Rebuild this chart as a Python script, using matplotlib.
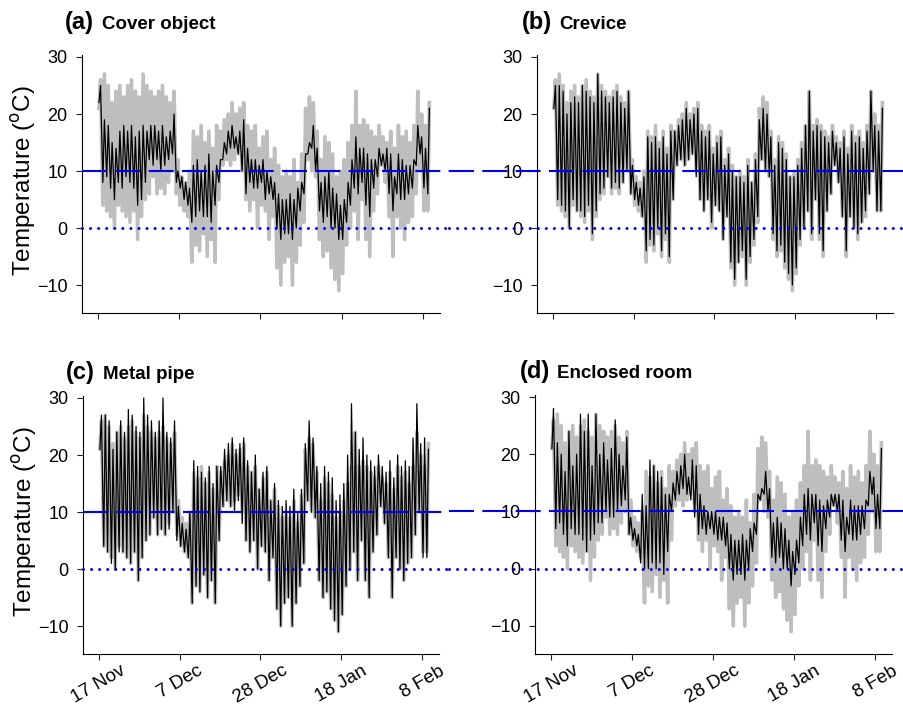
import numpy as np
import matplotlib
matplotlib.use("Agg")
import matplotlib.pyplot as plt
from matplotlib.transforms import blended_transform_factory

plt.rcParams["font.family"] = ["Liberation Sans", "DejaVu Sans"]
plt.rcParams["lines.scale_dashes"] = False

W, H = 904, 705

TICK_DAYS = [0, 21, 42, 63, 84]
TICK_LABELS = ["17 Nov", "7 Dec", "28 Dec", "18 Jan", "8 Feb"]
Y_TICKS = [-10, 0, 10, 20, 30]

# daily max / min, day 0 = 17 Nov
AIR_MAX = [26, 27, 25, 22, 24, 25, 23, 25, 26, 24, 23, 27, 25, 24, 23, 24, 25, 23, 22, 24,
           12, 9, 8, 10, 17, 16, 18, 15, 17, 14, 18, 17, 19, 20, 22, 20, 21, 22, 18, 17,
           18, 14, 16, 17, 12, 14, 11, 9, 10, 9, 12, 8, 13, 21, 23, 22, 17, 12, 16, 15,
           13, 9, 10, 12, 15, 18, 24, 18, 19, 18, 17, 16, 18, 16, 15, 17, 14, 18, 16, 17,
           15, 18, 24, 20, 18, 22]
AIR_MIN = [21, 4, 3, 2, 0, 4, 3, 2, 1, 3, -2, 2, 5, 6, 9, 6, 7, 6, 8, 10,
           6, 4, 3, 2, -6, -3, -4, -1, -5, -2, -6, 5, 11, 12, 11, 12, 13, 10, 5, 3,
           5, 0, 4, 3, -2, 2, -7, -10, -6, -5, -10, -6, -3, 1, 12, 10, 9, -2, -5, -4,
           -7, -9, -11, -8, -3, 0, 3, -2, 5, -2, -5, 3, 6, 11, 8, 2, -5, 2, 0, -2,
           1, 2, 6, 10, 3, 3]

COVER_MAX = [25, 19, 18, 15, 14, 17, 18, 17, 18, 16, 17, 18, 17, 18, 18, 17, 18, 16, 17, 20,
             10, 9, 8, 7, 11, 12, 10, 11, 13, 10, 11, 12, 15, 17, 18, 16, 17, 19, 14, 12,
             12, 11, 12, 10, 9, 8, 6, 5, 5, 6, 5, 7, 8, 13, 15, 18, 14, 8, 9, 10,
             7, 6, 4, 5, 8, 12, 16, 14, 14, 13, 12, 12, 14, 13, 14, 13, 9, 13, 12, 11,
             11, 12, 18, 16, 14, 21]
COVER_MIN = [22, 8, 9, 7, 5, 8, 7, 9, 8, 7, 4, 5, 8, 12, 11, 12, 10, 11, 12, 13,
             8, 7, 5, 4, 1, 2, 3, 2, 2, 1, 4, 8, 12, 13, 14, 14, 13, 10, 6, 8,
             7, 7, 8, 5, 6, 5, 0, -2, -1, -1, -2, 0, 3, 6, 13, 14, 10, 3, 1, 2,
             0, 0, -2, -2, 1, 4, 7, 6, 8, 4, 2, 7, 9, 11, 10, 6, 3, 6, 5, 5,
             6, 7, 11, 13, 7, 6]

CREVICE_MAX = [25, 25, 24, 20, 22, 23, 22, 25, 24, 23, 22, 27, 24, 23, 22, 23, 24, 22, 21, 24,
               11, 8, 7, 9, 16, 15, 16, 14, 16, 13, 17, 17, 18, 19, 21, 19, 20, 21, 17, 16,
               17, 13, 15, 16, 11, 13, 10, 9, 9, 8, 11, 8, 12, 19, 21, 20, 16, 11, 15, 14,
               12, 9, 9, 11, 14, 18, 24, 17, 18, 17, 16, 15, 17, 15, 14, 16, 13, 17, 15, 16,
               14, 17, 24, 18, 17, 21]
CREVICE_MIN = [21, 5, 4, 3, 0, 5, 3, 3, 2, 4, -1, 3, 6, 7, 9, 7, 8, 7, 8, 10,
               6, 5, 4, 2, -4, -2, -3, 0, -4, -1, -5, 5, 11, 12, 11, 12, 13, 9, 5, 3,
               5, 1, 4, 3, -2, 2, -6, -9, -6, -4, -9, -5, -2, 2, 12, 10, 9, -1, -4, -3,
               -6, -8, -10, -7, -2, 0, 3, -1, 5, -1, -4, 3, 6, 11, 8, 2, -4, 2, 0, -1,
               1, 3, 6, 10, 3, 3]

PIPE_MAX = [27, 27, 26, 21, 24, 26, 24, 28, 27, 25, 24, 30, 27, 26, 24, 26, 30, 24, 23, 26,
            11, 8, 7, 10, 19, 18, 17, 16, 18, 15, 18, 18, 21, 22, 23, 21, 22, 23, 19, 17,
            20, 14, 17, 18, 12, 15, 12, 11, 12, 11, 14, 10, 14, 22, 26, 23, 18, 15, 18, 17,
            16, 12, 13, 15, 20, 29, 24, 21, 23, 20, 19, 18, 20, 18, 17, 19, 16, 20, 18, 19,
            18, 23, 29, 22, 23, 21]
PIPE_MIN = [21, 4, 3, 1, 0, 3, 3, 2, 1, 3, -2, 2, 5, 6, 9, 6, 7, 6, 7, 10,
            5, 4, 3, 2, -6, -3, -4, -1, -5, -2, -6, 5, 11, 12, 11, 10, 12, 8, 5, 3,
            5, 0, 4, 3, -2, 2, -7, -10, -6, -5, -10, -6, -3, 1, 12, 10, 9, -2, -5, -4,
            -7, -9, -11, -8, -3, 0, 3, -2, 5, -2, -5, 3, 6, 11, 8, 2, -5, 2, 0, -2,
            1, 2, 6, 10, 2, 2]

ROOM_MAX = [28, 22, 20, 17, 24, 18, 20, 27, 24, 27, 18, 27, 20, 22, 19, 21, 26, 20, 18, 23,
            9, 7, 6, 13, 11, 19, 18, 17, 16, 13, 13, 15, 17, 18, 20, 16, 19, 18, 13, 11,
            10, 10, 10, 9, 9, 8, 6, 5, 5, 6, 5, 7, 8, 13, 14, 17, 14, 8, 9, 8,
            7, 5, 3, 5, 9, 13, 14, 13, 13, 12, 11, 12, 13, 13, 13, 12, 9, 12, 11, 11,
            11, 12, 17, 16, 13, 21]
ROOM_MIN = [21, 7, 8, 6, 4, 7, 6, 6, 5, 3, 5, 6, 8, 8, 10, 9, 9, 10, 11, 12,
            6, 5, 4, 1, 0, 0, 1, 0, 1, -1, 3, 10, 12, 13, 14, 13, 12, 9, 6, 7,
            6, 7, 6, 5, 5, 4, 0, -2, -1, -1, -2, 0, 3, 6, 12, 13, 10, 2, 1, 2,
            0, 0, -3, -1, 1, 4, 6, 5, 8, 4, 3, 7, 9, 11, 10, 5, 3, 6, 5, 5,
            6, 7, 11, 13, 7, 7]

PANELS = [
    ("(a)", "Cover object", COVER_MAX, COVER_MIN, (82, 55, 440, 313), "left", False),
    ("(b)", "Crevice", CREVICE_MAX, CREVICE_MIN, (537, 55, 893, 313), "right", False),
    ("(c)", "Metal pipe", PIPE_MAX, PIPE_MIN, (83, 396, 439, 654), "left", True),
    ("(d)", "Enclosed room", ROOM_MAX, ROOM_MIN, (535, 395, 892, 654), "right", True),
]


def daily_series(mx, mn):
    """Interleave daily minimum (early morning) and maximum (afternoon)."""
    d = np.arange(len(mx))
    t = np.column_stack([d + 0.25, d + 0.65]).ravel()
    v = np.column_stack([mn, mx]).ravel()
    return t, v


def px_axes(fig, box):
    x0, y0, x1, y1 = box
    return fig.add_axes([x0 / W, 1 - y1 / H, (x1 - x0) / W, (y1 - y0) / H])


def draw_panel(fig, letter, name, mx, mn, box, side, xlabels):
    ax = px_axes(fig, box)
    t_air, v_air = daily_series(AIR_MAX, AIR_MIN)
    t, v = daily_series(mx, mn)
    ax.plot(t_air, v_air, color="#bebebe", lw=2.6, solid_joinstyle="round", zorder=2)
    ax.plot(t, v, color="black", lw=0.9, zorder=3)

    # reference lines run across the whole panel region
    trans = blended_transform_factory(fig.transFigure, ax.transData)
    xs = [box[0] / W, 0.497] if side == "left" else [0.497, 1.0]
    ax.plot(xs, [10, 10], transform=trans, clip_on=False, color="#0000ee",
            lw=1.5, dashes=(18, 6), zorder=4)
    ax.plot(xs, [0, 0], transform=trans, clip_on=False, color="#0000ee",
            lw=2.2, dashes=(0.01, 5.8), dash_capstyle="round", zorder=4)

    ax.set_xlim(-4.14, 88.4)
    ax.set_ylim(-14.9, 30.35)
    ax.set_yticks(Y_TICKS)
    ax.set_xticks(TICK_DAYS)
    if xlabels:
        ax.set_xticklabels(TICK_LABELS, rotation=30, ha="center", va="top")
    else:
        ax.set_xticklabels([])
    ax.tick_params(axis="both", labelsize=13, length=4.5, width=0.8, color="#222222")
    ax.tick_params(axis="x", labelsize=13.5, pad=1.5)
    ax.tick_params(axis="y", pad=6)
    for s in ["top", "right"]:
        ax.spines[s].set_visible(False)
    for s in ["left", "bottom"]:
        ax.spines[s].set_linewidth(0.8)

    # panel titles
    x0, y0 = box[0], box[1]
    tx = x0 - 17 if side == "left" else x0 - 15
    base = y0 - 26 if y0 < 100 else y0 - 17
    fig.text(tx / W, 1 - base / H, letter, fontsize=17, fontweight="bold", va="baseline")
    fig.text((tx + 37) / W, 1 - base / H, name, fontsize=13.5, fontweight="bold",
             va="baseline")

    if side == "left":
        fig.text((x0 - 58) / W, 1 - (y0 + 126) / H, "Temperature ($^{\\mathrm{o}}$C)",
                 rotation=90, fontsize=17.5, ha="center", va="center")
    return ax


def main():
    fig = plt.figure(figsize=(W / 100, H / 100), dpi=100)
    for letter, name, mx, mn, box, side, xlabels in PANELS:
        draw_panel(fig, letter, name, mx, mn, box, side, xlabels)
    fig.savefig("out.png", dpi=100)
    plt.close(fig)


if __name__ == "__main__":
    main()
